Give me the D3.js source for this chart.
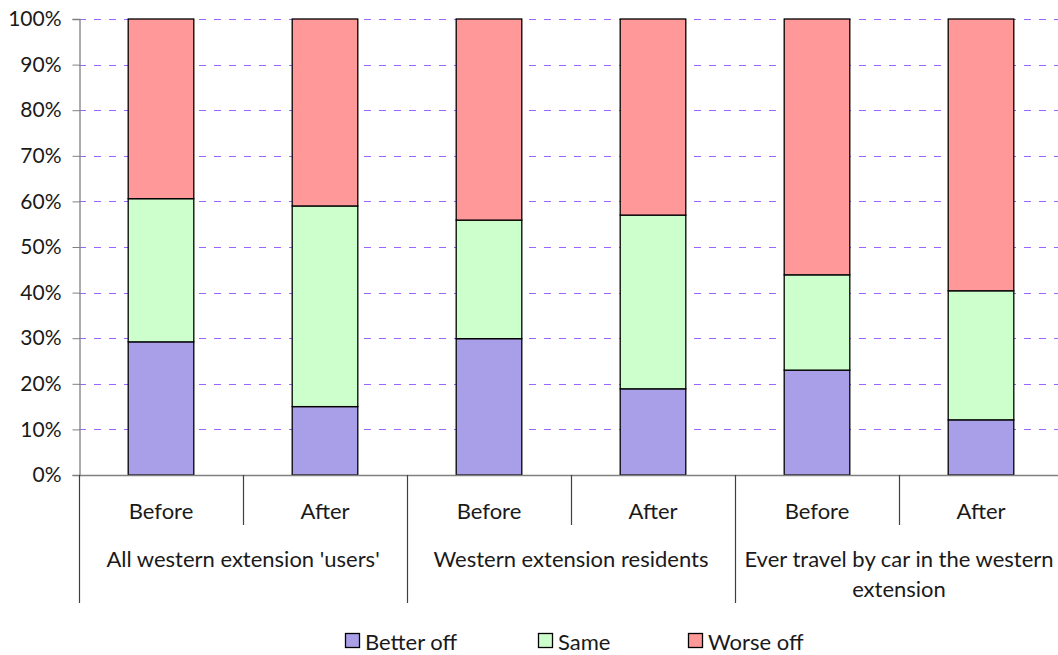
<!DOCTYPE html>
<html><head><meta charset="utf-8">
<script src="https://cdn.jsdelivr.net/npm/d3@7"></script>
<style>
html,body{margin:0;padding:0;background:#fff;}
text{font-family:"Lato","Open Sans",sans-serif;fill:#1a1a1a;}
</style></head>
<body>
<svg id="chart" width="1058" height="655"></svg>
<script>
const periods = ["Before","After","Before","After","Before","After"];
const groups = ["All western extension 'users'","Western extension residents","Ever travel by car in the western extension"];
const seriesNames = ["Better off","Same","Worse off"];
const betterOff = [29.2, 15.0, 29.9, 18.9, 23.0, 12.1];
const same = [31.4, 44.0, 26.0, 38.1, 20.9, 28.3];
const worseOff = [39.4, 41.0, 44.1, 43.0, 56.1, 59.6];
const yTicks = [0,10,20,30,40,50,60,70,80,90,100];
const colors = ["#a99fe9","#ccffcc","#ff9999"];

(function(){
const svg = d3.select("#chart");
const pLeft = 79, pRight = 1063, pTop = 19, pBottom = 475;
const FS = 22;
const ids = periods.map((p,i)=>i);
const x = d3.scaleBand().domain(ids).range([pLeft,pRight]).paddingInner(0.6).paddingOuter(0.3);
const y = d3.scaleLinear().domain([0,100]).range([pBottom,pTop]);

// gridlines
svg.append("g").selectAll("line").data(yTicks.filter(t=>t>0)).join("line")
  .attr("x1",pLeft).attr("x2",pRight)
  .attr("y1",d=>Math.round(y(d))+0.5).attr("y2",d=>Math.round(y(d))+0.5)
  .attr("stroke","#9966ff").attr("stroke-width",1).attr("stroke-dasharray","7,8");

// stacked data
const rows = ids.map(i=>({i, "Better off":betterOff[i], "Same":same[i], "Worse off":worseOff[i]}));
const stack = d3.stack().keys(seriesNames)(rows);
svg.append("g").selectAll("g").data(stack).join("g")
  .attr("fill",(d,k)=>colors[k])
  .selectAll("rect").data(d=>d).join("rect")
  .attr("x",d=>x(d.data.i)).attr("width",x.bandwidth())
  .attr("y",d=>y(d[1])).attr("height",d=>y(d[0])-y(d[1]))
  .attr("stroke","#000").attr("stroke-width",1.3);

// y axis
const yAxis = d3.axisLeft(y).tickValues(yTicks).tickFormat(d=>d+"%").tickSize(7).tickPadding(11);
const ga = svg.append("g").attr("transform",`translate(${pLeft+0.5},0)`).call(yAxis);
ga.select(".domain").attr("stroke","#808080").attr("stroke-width",1.3);
ga.selectAll(".tick line").attr("stroke","#808080");
ga.selectAll(".tick text").attr("font-size",21).attr("font-family","Lato").attr("fill","#1a1a1a");

// x axis baseline
svg.append("line").attr("x1",pLeft).attr("x2",pRight).attr("y1",pBottom+0.5).attr("y2",pBottom+0.5)
  .attr("stroke","#808080").attr("stroke-width",1.3);

// category dividers
const step = x.step();
const subDiv = d3.range(0,periods.length+1).map(i=>pLeft+i*step);
svg.append("g").selectAll("line").data(subDiv).join("line")
  .attr("x1",d=>Math.round(d)+0.5).attr("x2",d=>Math.round(d)+0.5)
  .attr("y1",pBottom).attr("y2",(d,i)=> i%2===0 ? 603 : 525)
  .attr("stroke","#404040").attr("stroke-width",1.2);

// period labels
svg.append("g").selectAll("text").data(ids).join("text")
  .attr("x",i=>x(i)+x.bandwidth()/2).attr("y",519)
  .attr("text-anchor","middle").attr("font-size",FS).text(i=>periods[i]);

// group labels with wrapping
const gl = svg.append("g").selectAll("text").data(groups).join("text")
  .attr("x",(d,g)=>pLeft+step*(2*g+1)).attr("y",567)
  .attr("text-anchor","middle").attr("font-size",FS);
gl.each(function(d,g){
  const t = d3.select(this);
  const words = d.split(" ");
  let line=[], lines=[];
  const tmp = t.append("tspan");
  words.forEach(w=>{
    line.push(w);
    tmp.text(line.join(" "));
    if (tmp.node().getComputedTextLength() > step*2-10 && line.length>1){
      line.pop(); lines.push(line.join(" ")); line=[w];
    }
  });
  lines.push(line.join(" "));
  tmp.remove();
  lines.forEach((l,k)=>t.append("tspan").attr("x",pLeft+step*(2*g+1)).attr("dy",k===0?0:30).text(l));
});

// legend
const legendX = [345, 538, 688];
const lg = svg.append("g").selectAll("g").data(seriesNames).join("g")
  .attr("transform",(d,k)=>`translate(${legendX[k]},633)`);
lg.append("rect").attr("x",0.5).attr("y",0.5).attr("width",14).attr("height",14)
  .attr("fill",(d,k)=>colors[k]).attr("stroke","#000").attr("stroke-width",1.3);
lg.append("text").attr("x",20).attr("y",17).attr("font-size",FS).text(d=>d);
})();
</script>
</body></html>
